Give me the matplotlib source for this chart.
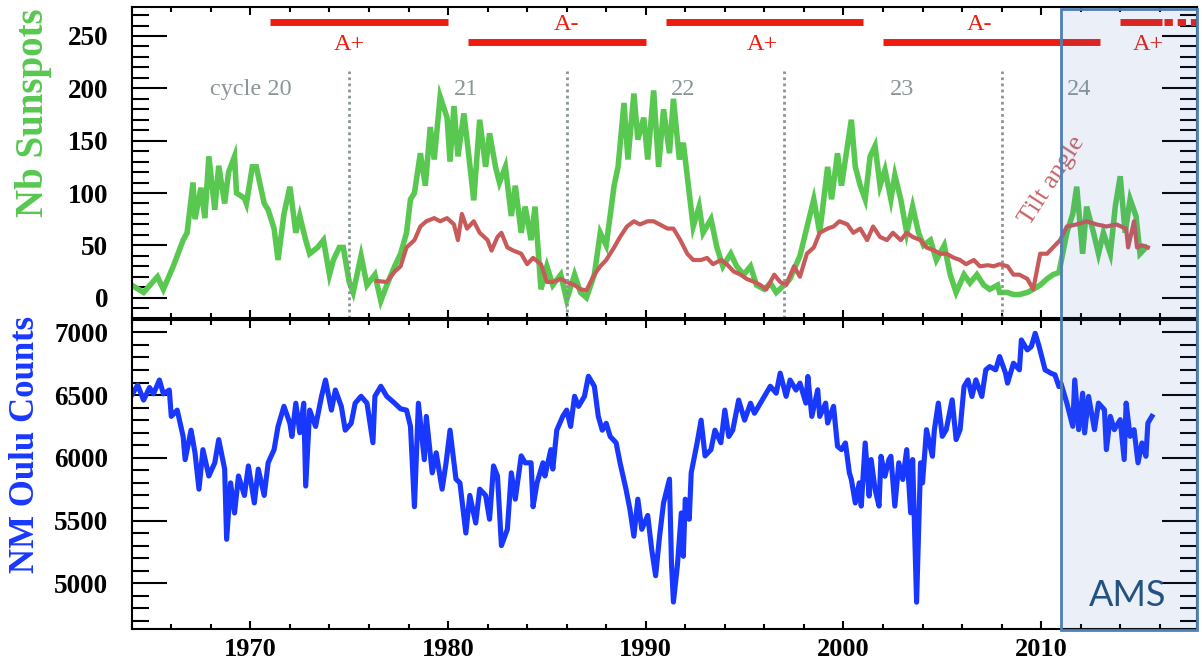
""" Sunspots, tilt angle and Oulu neutron monitor counts, 1964-2016 """

import matplotlib.pyplot as plt
import matplotlib.ticker as ticker
import matplotlib.transforms as mtransforms
from matplotlib.patches import Rectangle

# sunspot number
ssn_year = [1964.0, 1964.6, 1965.3, 1965.6, 1966.1, 1966.6, 1966.8, 1967.1, 1967.2, 1967.5,
            1967.7, 1967.9, 1968.2, 1968.4, 1968.7, 1968.9, 1969.2, 1969.3, 1969.7, 1969.8,
            1970.1, 1970.3, 1970.7, 1970.9, 1971.2, 1971.4, 1971.7, 1972.0, 1972.3, 1972.5,
            1972.8, 1973.0, 1973.4, 1973.7, 1974.0, 1974.2, 1974.5, 1974.7, 1975.0, 1975.2,
            1975.6, 1975.9, 1976.3, 1976.6, 1976.9, 1977.3, 1977.6, 1977.9, 1978.1, 1978.3,
            1978.6, 1978.85, 1979.1, 1979.3, 1979.6, 1979.95, 1980.1, 1980.3, 1980.5, 1980.8,
            1981.0, 1981.3, 1981.6, 1981.9, 1982.1, 1982.4, 1982.6, 1982.9, 1983.2, 1983.4,
            1983.7, 1983.9, 1984.2, 1984.4, 1984.7, 1985.0, 1985.3, 1985.7, 1986.0, 1986.4,
            1986.7, 1987.0, 1987.4, 1987.7, 1988.0, 1988.4, 1988.6, 1988.9, 1989.1, 1989.4,
            1989.6, 1989.9, 1990.1, 1990.4, 1990.65, 1990.9, 1991.2, 1991.4, 1991.7, 1991.9,
            1992.2, 1992.4, 1992.7, 1992.9, 1993.3, 1993.6, 1993.9, 1994.3, 1994.6, 1994.95,
            1995.3, 1995.6, 1996.0, 1996.3, 1996.6, 1997.0, 1997.3, 1997.8, 1998.5, 1998.8,
            1999.2, 1999.4, 1999.7, 1999.9, 2000.2, 2000.4, 2000.6, 2000.85, 2001.1, 2001.35,
            2001.6, 2001.85, 2002.1, 2002.4, 2002.6, 2002.9, 2003.2, 2003.5, 2003.8, 2004.05,
            2004.4, 2004.7, 2005.1, 2005.4, 2005.7, 2006.1, 2006.4, 2006.75, 2007.1, 2007.4,
            2007.8, 2007.9, 2008.3, 2008.6, 2008.9, 2009.3, 2009.6, 2009.95, 2010.3, 2010.6,
            2010.9, 2011.3, 2011.6, 2011.8, 2012.1, 2012.3, 2012.65, 2012.9, 2013.15, 2013.5,
            2013.75, 2014.0, 2014.25, 2014.5, 2014.8, 2015.0, 2015.3]
ssn = [12, 5, 20, 8, 30, 55, 62, 110, 75, 105,
       76, 135, 84, 126, 90, 120, 135, 100, 95, 90,
       125, 125, 90, 84, 66, 36, 80, 106, 62, 78,
       55, 42, 48, 55, 22, 36, 48, 48, 15, 5,
       40, 12, 22, -3, 12, 30, 42, 62, 94, 100,
       138, 107, 163, 132, 192, 172, 130, 183, 135, 176,
       144, 93, 170, 125, 157, 125, 110, 125, 78, 107,
       62, 87, 55, 87, 8, 30, 12, 22, -2, 22,
       5, 0, 22, 62, 50, 107, 125, 186, 132, 195,
       151, 172, 132, 198, 125, 180, 138, 190, 132, 148,
       100, 68, 87, 62, 75, 48, 30, 42, 30, 22,
       30, 12, 8, 14, 5, 12, 18, 40, 94, 62,
       125, 94, 138, 107, 145, 170, 125, 107, 94, 135,
       145, 107, 122, 94, 117, 94, 62, 87, 62, 50,
       55, 36, 50, 22, 5, 22, 14, 22, 12, 8,
       12, 5, 5, 3, 3, 5, 8, 12, 18, 22,
       24, 62, 80, 106, 42, 87, 62, 42, 62, 42,
       87, 116, 62, 94, 78, 42, 48]

# tilt angle
tilt_year = [1976.4, 1976.9, 1977.3, 1977.6, 1977.9, 1978.3, 1978.6, 1978.9, 1979.3, 1979.6,
             1979.95, 1980.3, 1980.5, 1980.7, 1980.96, 1981.3, 1981.6, 1982.0, 1982.2, 1982.5,
             1982.7, 1983.0, 1983.3, 1983.7, 1984.0, 1984.3, 1984.7, 1985.0, 1985.3, 1985.7,
             1986.0, 1986.4, 1986.7, 1987.0, 1987.4, 1987.7, 1988.0, 1988.4, 1988.7, 1989.05,
             1989.4, 1989.7, 1990.1, 1990.4, 1990.7, 1991.1, 1991.4, 1991.75, 1992.1, 1992.4,
             1992.8, 1993.1, 1993.4, 1993.8, 1994.1, 1994.45, 1994.8, 1995.1, 1995.5, 1995.8,
             1996.1, 1996.5, 1996.8, 1997.1, 1997.5, 1997.8, 1998.15, 1998.5, 1998.8, 1999.2,
             1999.5, 1999.8, 2000.2, 2000.5, 2000.85, 2001.2, 2001.5, 2001.85, 2002.2, 2002.5,
             2002.9, 2003.2, 2003.5, 2003.9, 2004.2, 2004.6, 2004.9, 2005.2, 2005.6, 2005.9,
             2006.2, 2006.6, 2006.9, 2007.3, 2007.6, 2007.9, 2008.3, 2008.6, 2008.9, 2009.3,
             2009.6, 2009.95, 2010.3, 2010.6, 2010.96, 2011.3, 2011.8, 2012.3, 2012.8, 2013.3,
             2013.8, 2014.3, 2014.4, 2014.7, 2014.85, 2015.1, 2015.4]
tilt = [16, 15, 25, 30, 48, 55, 68, 73, 76, 73,
        76, 70, 55, 80, 66, 73, 62, 55, 45, 58,
        62, 48, 45, 42, 32, 38, 32, 15, 15, 18,
        15, 12, 8, 7, 22, 30, 36, 48, 58, 68,
        73, 70, 73, 73, 70, 66, 66, 55, 42, 36,
        36, 38, 32, 36, 32, 25, 22, 18, 15, 12,
        8, 22, 15, 12, 30, 20, 42, 48, 62, 66,
        68, 73, 70, 62, 66, 55, 68, 58, 55, 62,
        55, 62, 58, 55, 48, 45, 42, 42, 38, 36,
        32, 36, 30, 31, 30, 32, 30, 22, 22, 18,
        8, 42, 42, 48, 55, 68, 70, 73, 70, 68,
        70, 66, 48, 73, 48, 50, 48]

# Oulu neutron monitor count rate
nm_year = [1964.0, 1964.3, 1964.6, 1964.9, 1965.1, 1965.4, 1965.6, 1965.9, 1966.0, 1966.3,
           1966.6, 1966.7, 1967.0, 1967.2, 1967.4, 1967.6, 1967.9, 1968.2, 1968.4, 1968.7,
           1968.8, 1969.0, 1969.2, 1969.4, 1969.7, 1969.9, 1970.2, 1970.4, 1970.7, 1970.9,
           1971.2, 1971.4, 1971.7, 1972.0, 1972.1, 1972.3, 1972.5, 1972.7, 1972.8, 1973.0,
           1973.3, 1973.6, 1973.8, 1974.1, 1974.3, 1974.6, 1974.8, 1975.1, 1975.3, 1975.6,
           1975.9, 1976.2, 1976.3, 1976.6, 1976.9, 1977.3, 1977.6, 1977.9, 1978.1, 1978.3,
           1978.5, 1978.8, 1978.9, 1979.2, 1979.4, 1979.7, 1979.9, 1980.1, 1980.4, 1980.6,
           1980.9, 1981.1, 1981.4, 1981.6, 1981.9, 1982.1, 1982.3, 1982.5, 1982.7, 1983.0,
           1983.2, 1983.4, 1983.7, 1983.9, 1984.2, 1984.3, 1984.5, 1984.8, 1984.9, 1985.2,
           1985.3, 1985.5, 1985.8, 1986.0, 1986.2, 1986.4, 1986.6, 1986.9, 1987.1, 1987.4,
           1987.6, 1987.8, 1988.0, 1988.2, 1988.5, 1988.7, 1989.0, 1989.2, 1989.4, 1989.6,
           1989.8, 1990.1, 1990.3, 1990.5, 1990.7, 1990.9, 1991.2, 1991.3, 1991.4, 1991.6,
           1991.8, 1991.9, 1992.0, 1992.2, 1992.3, 1992.6, 1992.8, 1993.0, 1993.3, 1993.5,
           1993.8, 1994.0, 1994.2, 1994.4, 1994.7, 1995.0, 1995.3, 1995.5, 1995.8, 1996.1,
           1996.3, 1996.6, 1996.8, 1997.1, 1997.3, 1997.6, 1997.8, 1998.1, 1998.2, 1998.4,
           1998.7, 1998.8, 1999.1, 1999.2, 1999.5, 1999.7, 1999.9, 2000.1, 2000.3, 2000.4,
           2000.6, 2000.8, 2000.9, 2001.1, 2001.3, 2001.4, 2001.6, 2001.8, 2001.9, 2002.1,
           2002.3, 2002.4, 2002.6, 2002.8, 2003.0, 2003.2, 2003.4, 2003.5, 2003.7, 2003.9,
           2004.0, 2004.2, 2004.5, 2004.6, 2004.8, 2005.0, 2005.2, 2005.5, 2005.7, 2005.9,
           2006.1, 2006.3, 2006.5, 2006.7, 2007.0, 2007.2, 2007.4, 2007.7, 2007.9, 2008.2,
           2008.3, 2008.6, 2008.9, 2009.0, 2009.3, 2009.5, 2009.7, 2009.9, 2010.2, 2010.5,
           2010.7, 2010.9, 2011.0, 2011.3, 2011.6, 2011.7, 2011.9, 2012.1, 2012.2, 2012.4,
           2012.7, 2012.9, 2013.2, 2013.3, 2013.5, 2013.7, 2014.0, 2014.2, 2014.3, 2014.5,
           2014.7, 2014.9, 2015.1, 2015.3, 2015.4, 2015.6]
nm_counts = [6500, 6580, 6460, 6560, 6510, 6620, 6510, 6540, 6330, 6380,
             6170, 5985, 6220, 6040, 5750, 6065, 5855, 5960, 6145, 5910,
             5350, 5800, 5560, 5855, 5700, 5935, 5640, 5910, 5700, 5960,
             6065, 6250, 6410, 6275, 6170, 6435, 6200, 6435, 5775, 6380,
             6250, 6490, 6620, 6380, 6540, 6410, 6220, 6275, 6435, 6490,
             6435, 6120, 6490, 6570, 6490, 6435, 6390, 6380, 6250, 5610,
             6435, 5985, 6330, 5880, 6040, 5750, 5960, 6220, 5830, 5800,
             5400, 5700, 5480, 5750, 5700, 5510, 5935, 5855, 5300, 5430,
             5880, 5670, 6015, 5960, 5960, 5610, 5800, 5960, 5855, 6065,
             5910, 6220, 6330, 6380, 6250, 6490, 6410, 6490, 6650, 6570,
             6330, 6220, 6275, 6170, 6120, 5960, 5750, 5590, 5375, 5670,
             5430, 5540, 5270, 5060, 5375, 5640, 5830, 5165, 4850, 5140,
             5560, 5215, 5670, 5510, 5880, 6120, 6300, 6015, 6065, 6220,
             6120, 6380, 6170, 6220, 6460, 6300, 6435, 6355, 6435, 6515,
             6570, 6515, 6675, 6490, 6620, 6540, 6595, 6436, 6648, 6330,
             6542, 6330, 6436, 6277, 6410, 6092, 6065, 6118, 5880, 5827,
             5640, 5800, 5615, 6118, 5695, 5986, 5748, 5615, 6012, 5853,
             5986, 6012, 5615, 5960, 5827, 6065, 5562, 5986, 4849, 5960,
             5800, 6224, 6012, 6224, 6436, 6171, 6224, 6462, 6145, 6224,
             6568, 6621, 6489, 6621, 6489, 6701, 6727, 6701, 6807, 6674,
             6595, 6754, 6701, 6939, 6860, 6886, 6992, 6886, 6701, 6674,
             6661, 6568, 6595, 6436, 6251, 6621, 6224, 6515, 6198, 6489,
             6224, 6436, 6383, 6065, 6330, 6224, 6304, 5986, 6436, 6171,
             6224, 5960, 6118, 6012, 6277, 6330]

# solar magnetic polarity epochs
pol_start = [1971, 1981, 1991, 2002, 2014]
pol_end = [1980, 1990, 2001, 2013, 2016.1]
pol_row = [263.6, 244.5, 263.6, 244.5, 263.6]
pol_label = ['A+', 'A-', 'A+', 'A-', 'A+']
pol_label_x = [1975.0, 1986.0, 1995.9, 2006.9, 2015.4]
pol_label_y = [242, 261, 242, 261, 242]

# solar cycle minima and cycle numbers
cycle_min = [1975.0, 1986.0, 1997.0, 2008.0]
cycle_label = ['cycle 20', '21', '22', '23', '24']
cycle_label_x = [1970.0, 1980.9, 1991.9, 2002.95, 2011.9]

ams_start = 2011.0

XMIN, XMAX = 1964.0, 2017.9
GREEN = '#58c850'
TILT = '#c85a5a'
BLUE = '#1838ff'
RED = '#ee1c10'
GREY = '#8c9696'

plt.rcParams['font.family'] = ['Liberation Serif', 'DejaVu Serif']

fig = plt.figure(figsize=(12.02, 6.64), dpi=100)
ax1 = fig.add_axes([0.1096, 0.5211, 0.8865, 0.4679])
ax2 = fig.add_axes([0.1096, 0.0523, 0.8865, 0.4657])


def style_axis(ax, show_x_labels):
    ax.set_xlim(XMIN, XMAX)
    ax.xaxis.set_major_locator(ticker.MultipleLocator(10))
    ax.xaxis.set_minor_locator(ticker.MultipleLocator(2))
    ax.tick_params(axis='both', which='both', direction='in',
                   top=True, right=True, width=1.5, colors='black')
    ax.tick_params(axis='y', which='major', length=25, pad=17, labelsize=19.5)
    ax.tick_params(axis='y', which='minor', length=12)
    ax.tick_params(axis='x', which='major', length=6, pad=6, labelsize=19)
    ax.tick_params(axis='x', which='minor', length=3.5)
    ax.tick_params(axis='x', labelbottom=show_x_labels)
    for sp in ax.spines.values():
        sp.set_linewidth(1.5)
    for lbl in ax.get_xticklabels() + ax.get_yticklabels():
        lbl.set_fontweight('bold')


# top panel: sunspots and tilt angle
ax1.plot(ssn_year, ssn, color=GREEN, lw=4, solid_joinstyle='miter')
ax1.plot(tilt_year, tilt, color=TILT, lw=3)
ax1.set_ylim(-19.4, 277.4)
ax1.yaxis.set_major_locator(ticker.MultipleLocator(50))
ax1.yaxis.set_minor_locator(ticker.MultipleLocator(10))
style_axis(ax1, False)

ax1.vlines(cycle_min, -19.4, 217, colors='#8a9595', lw=2, linestyles=(0, (1, 1.2)))
ax1.hlines(pol_row, pol_start, pol_end, colors=RED, lw=5)
ax1.plot([pol_end[-1] + 0.1, XMAX], [pol_row[-1], pol_row[-1]],
         color=RED, lw=5, ls=(0, (1.2, 0.7)), solid_capstyle='butt')
for x, y, s in zip(pol_label_x, pol_label_y, pol_label):
    ax1.text(x, y, s, color=RED, fontsize=17.5, ha='center', va='center')
for x, s in zip(cycle_label_x, cycle_label):
    ax1.text(x, 199, s, color=GREY, fontsize=17.5, ha='center', va='center')
ax1.text(2010.55, 112, 'Tilt angle', color='#c86464', fontsize=19,
         rotation=57, rotation_mode='anchor', ha='center', va='center')

# bottom panel: neutron monitor
ax2.plot(nm_year, nm_counts, color=BLUE, lw=3.7)
ax2.set_ylim(4633, 7098)
ax2.yaxis.set_major_locator(ticker.MultipleLocator(500))
ax2.yaxis.set_minor_locator(ticker.MultipleLocator(100))
style_axis(ax2, True)

fig.text(0.0275, 0.831, 'Nb Sunspots', color=GREEN, fontsize=28, fontweight='bold',
         rotation=90, ha='center', va='center')
fig.text(0.021, 0.331, 'NM Oulu Counts', color=BLUE, fontsize=25, fontweight='bold',
         rotation=90, ha='center', va='center')

# AMS data-taking period, across both panels
trans = mtransforms.blended_transform_factory(ax2.transData, fig.transFigure)
fig.add_artist(Rectangle((ams_start, 0.0512), XMAX - ams_start, 0.9352, transform=trans,
                         facecolor='#4472c4', alpha=0.11, edgecolor='none', zorder=5))
fig.add_artist(Rectangle((ams_start, 0.0512), XMAX - ams_start, 0.9352, transform=trans,
                         facecolor='none', edgecolor='#4f7fb5', lw=2, zorder=6))
ax2.text(2014.35, 4905, 'AMS', color='#1f4e79', fontsize=26, family='Lato',
         ha='center', va='center')

fig.savefig('out.png', dpi=100)
